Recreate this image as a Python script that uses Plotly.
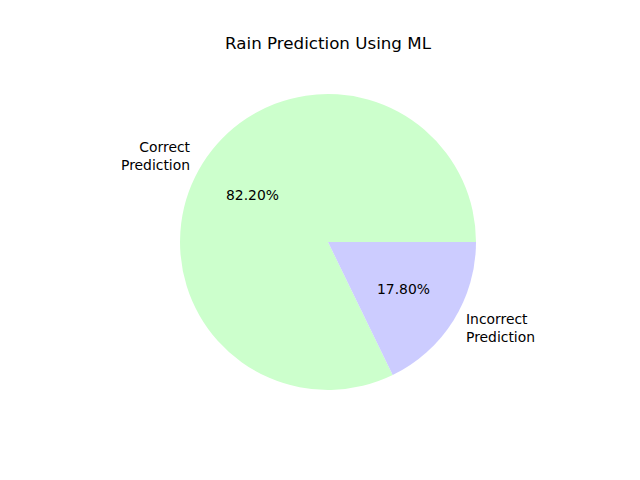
import math
import plotly.graph_objects as go

labels = ["Correct<br>Prediction", "Incorrect<br>Prediction"]
values = [82.2, 17.8]
colors = ["#ccffcc", "#ccccff"]
title = "Rain Prediction Using ML"

W, H = 640, 480
cx, cy, r = 328, 242, 148

total = sum(values)
# matplotlib-style: first slice starts at 3 o'clock and runs counterclockwise
rotation = 90 + 360 * (1 - values[0] / total)

fig = go.Figure(go.Pie(
    labels=labels, values=values, sort=False, direction="counterclockwise",
    rotation=rotation, textinfo="none", hoverinfo="label+percent",
    marker=dict(colors=colors, line=dict(width=0)),
    domain=dict(x=[(cx - r) / W, (cx + r) / W], y=[1 - (cy + r) / H, 1 - (cy - r) / H]),
    showlegend=False,
))

start = 0.0
annotations = []
font = dict(family="DejaVu Sans", size=13.9, color="black")
for lab, v in zip(labels, values):
    frac = v / total
    mid = math.radians((start + frac / 2) * 360)
    start += frac
    c, s = math.cos(mid), math.sin(mid)
    lx, ly = cx + 1.1 * r * c, cy - 1.1 * r * s
    annotations.append(dict(
        x=lx / W, y=1 - ly / H, xref="paper", yref="paper", text=lab,
        showarrow=False, xanchor="right" if c < 0 else "left", yanchor="middle",
        xshift=3 if c < 0 else -2,
        align="right" if c < 0 else "left", font=font))
    px, py = cx + 0.6 * r * c, cy - 0.6 * r * s
    annotations.append(dict(
        x=px / W, y=1 - py / H, xref="paper", yref="paper", text=f"{v:.2f}%",
        showarrow=False, xanchor="center", yanchor="middle", font=font))

fig.update_layout(
    width=W, height=H, margin=dict(l=0, r=0, t=0, b=0),
    paper_bgcolor="white", plot_bgcolor="white",
    title=dict(text=title, x=cx / W, xanchor="center", y=1 - 43 / H, yanchor="middle",
               font=dict(family="DejaVu Sans", size=16.7, color="black")),
    annotations=annotations,
)
fig.write_html("out.html")
